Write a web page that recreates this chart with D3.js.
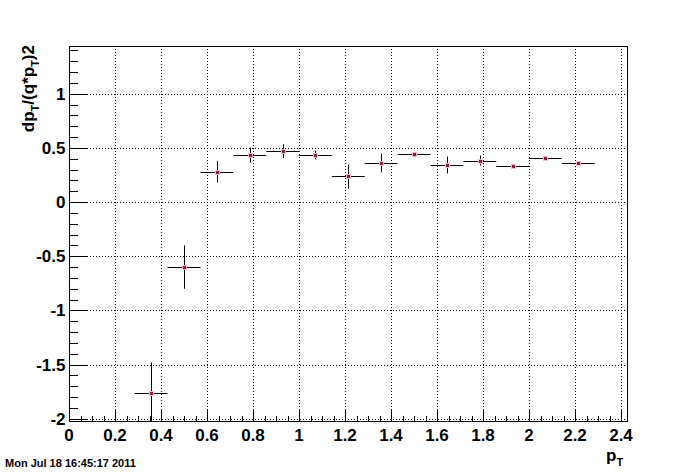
<!DOCTYPE html>
<html>
<head>
<meta charset="utf-8">
<script src="https://d3js.org/d3.v7.min.js"></script>
<style>
  body { margin: 0; background: #fff; }
  text { font-family: "Liberation Sans", Arial, sans-serif; font-weight: bold; }
</style>
</head>
<body>
<script type="text/javascript">

// bin centres, half widths and measured values
var binCenters = [0.357, 0.5, 0.643, 0.786, 0.929, 1.071, 1.214, 1.357, 1.5, 1.643, 1.786, 1.929, 2.071, 2.214];
var binHalfWidth = 0.0714;
var values = [-1.76, -0.60, 0.28, 0.435, 0.47, 0.435, 0.236, 0.36, 0.442, 0.343, 0.383, 0.334, 0.405, 0.36];
var errors = [0.28, 0.20, 0.10, 0.07, 0.065, 0.04, 0.11, 0.086, 0.02, 0.078, 0.046, 0.01, 0.02, 0.01];

var xMajor = [0, 0.2, 0.4, 0.6, 0.8, 1, 1.2, 1.4, 1.6, 1.8, 2, 2.2, 2.4];
var yMajor = [-2, -1.5, -1, -0.5, 0, 0.5, 1];
var xLabels = ["0", "0.2", "0.4", "0.6", "0.8", "1", "1.2", "1.4", "1.6", "1.8", "2", "2.2", "2.4"];
var yLabels = ["-2", "-1.5", "-1", "-0.5", "0", "0.5", "1"];

var width = 696, height = 472;
var frame = {left: 69, right: 627, top: 46, bottom: 421};

var svg = d3.select("body").append("svg")
    .attr("width", width)
    .attr("height", height);

var x = d3.scaleLinear().domain([0, 2.426]).range([frame.left, frame.right]);
var y = d3.scaleLinear().domain([-2.02, 1.44]).range([frame.bottom, frame.top]);

// grid (dotted)
var grid = svg.append("g").attr("stroke", "#000").attr("stroke-width", 1)
    .attr("stroke-dasharray", "1,2").attr("shape-rendering", "crispEdges");
grid.selectAll(".gx").data(xMajor.slice(1)).enter().append("line")
    .attr("x1", d => Math.round(x(d)) + 0.5).attr("x2", d => Math.round(x(d)) + 0.5)
    .attr("y1", frame.top).attr("y2", frame.bottom);
grid.selectAll(".gy").data(yMajor).enter().append("line")
    .attr("x1", frame.left).attr("x2", frame.right)
    .attr("y1", d => Math.round(y(d)) + 0.5).attr("y2", d => Math.round(y(d)) + 0.5);

// frame
svg.append("rect")
    .attr("x", frame.left + 0.5).attr("y", frame.top + 0.5)
    .attr("width", frame.right - frame.left).attr("height", frame.bottom - frame.top)
    .attr("fill", "none").attr("stroke", "#000").attr("stroke-width", 1);

// x axis ticks (inside, upward)
var xMinor = d3.range(0, 2.401, 0.05);
var xAxis = d3.axisBottom(x)
    .tickValues(xMinor)
    .tickSize(-6)
    .tickFormat("");
var gx = svg.append("g").attr("transform", "translate(0," + (frame.bottom + 0.5) + ")").call(xAxis);
gx.select(".domain").remove();
gx.selectAll(".tick line")
    .attr("y2", d => xMajor.some(m => Math.abs(m - d) < 1e-6) ? -12 : -6)
    .attr("shape-rendering", "crispEdges");

gx.selectAll(".lbl").data(xMajor).enter().append("text")
    .attr("x", d => x(d)).attr("y", 19)
    .attr("text-anchor", "middle").attr("font-size", 17).attr("fill", "#000")
    .text((d, i) => xLabels[i]);

// y axis ticks (inside, rightward)
var yMinor = d3.range(-2, 1.401, 0.1);
var yAxis = d3.axisLeft(y)
    .tickValues(yMinor)
    .tickSize(-8)
    .tickFormat("");
var gy = svg.append("g").attr("transform", "translate(" + (frame.left + 0.5) + ",0)").call(yAxis);
gy.select(".domain").remove();
gy.selectAll(".tick line")
    .attr("x2", d => yMajor.some(m => Math.abs(m - d) < 1e-6) ? 17 : 8)
    .attr("shape-rendering", "crispEdges");

gy.selectAll(".lbl").data(yMajor).enter().append("text")
    .attr("x", -4).attr("y", d => y(d) + 6)
    .attr("text-anchor", "end").attr("font-size", 17).attr("fill", "#000")
    .text((d, i) => yLabels[i]);

// data points with error bars
var pts = binCenters.map((c, i) => ({x: c, v: values[i], e: errors[i]}));
var gp = svg.append("g");
gp.selectAll(".ex").data(pts).enter().append("line")
    .attr("x1", d => x(d.x - binHalfWidth)).attr("x2", d => x(d.x + binHalfWidth))
    .attr("y1", d => Math.round(y(d.v)) + 0.5).attr("y2", d => Math.round(y(d.v)) + 0.5)
    .attr("stroke", "#000").attr("stroke-width", 1);
gp.selectAll(".ey").data(pts).enter().append("line")
    .attr("x1", d => Math.round(x(d.x)) + 0.5).attr("x2", d => Math.round(x(d.x)) + 0.5)
    .attr("y1", d => y(d.v + d.e))
    .attr("y2", d => Math.min(y(d.v - d.e), frame.bottom))
    .attr("stroke", "#000").attr("stroke-width", 1);
gp.selectAll(".halo").data(pts).enter().append("rect")
    .attr("x", d => Math.round(x(d.x)) - 2).attr("y", d => Math.round(y(d.v)) - 2)
    .attr("width", 5).attr("height", 5)
    .attr("fill", "#f2b8d4");
gp.selectAll(".mk").data(pts).enter().append("rect")
    .attr("x", d => Math.round(x(d.x)) - 1).attr("y", d => Math.round(y(d.v)) - 1)
    .attr("width", 3).attr("height", 3)
    .attr("fill", "#8a1a42");

// axis titles
var yt = svg.append("text")
    .attr("transform", "translate(34,45) rotate(-90)")
    .attr("text-anchor", "end").attr("font-size", 17).attr("fill", "#000");
yt.append("tspan").text("dp");
yt.append("tspan").attr("font-size", 11).attr("dy", 5).text("T");
yt.append("tspan").attr("dy", -5).text("/(q*p");
yt.append("tspan").attr("font-size", 11).attr("dy", 5).text("T");
yt.append("tspan").attr("dy", -5).text(")2");

var xt = svg.append("text")
    .attr("x", 606).attr("y", 461)
    .attr("font-size", 17).attr("fill", "#000");
xt.append("tspan").text("p");
xt.append("tspan").attr("font-size", 11).attr("dy", 5).text("T");

// date stamp
svg.append("text")
    .attr("x", 5).attr("y", 467)
    .attr("font-size", 11).attr("fill", "#000")
    .text("Mon Jul 18 16:45:17 2011");

</script>
</body>
</html>
